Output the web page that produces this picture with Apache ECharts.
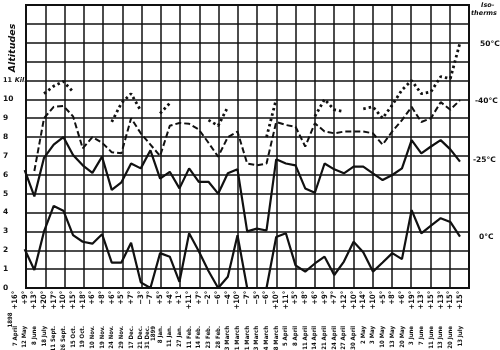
<!DOCTYPE html>
<html><head><meta charset="utf-8">
<script src="https://cdn.jsdelivr.net/npm/echarts@6/dist/echarts.min.js"></script>
<style>html,body{margin:0;padding:0;background:#fff}#c{width:500px;height:350px}</style>
</head><body><div id="c"></div>
<script>
// Observation dates (1898-1899) and ground temperatures
const dates = ["7 April","12 May","8 June","18 July","11 Sept.","26 Sept.","15 Oct.","19 Oct.","10 Nov.","19 Nov.","24 Nov.","29 Nov.","17 Dec.","21 Dec.","31 Dec.\n1899","8 Jan.","11 Jan.","27 Jan.","11 Feb.","14 Feb.","23 Feb.","28 Feb.","3 March","11 March","21 March","23 March","24 March","28 March","5 April","8 April","11 April","14 April","21 April","24 April","27 April","30 April","2 May","3 May","10 May","13 May","20 May","3 June","7 June","11 June","13 June","20 June","13 July"];
const temps = ["+16°","+9°","+13°","+20°","+17°","+10°","+15°","+18°","+6°","+8°","+6°","+5°","+7°","−3°","−7°","+5°","+4°","+1°","+11°","+7°","−2°","−6°","−4°","+10°","−7°","−5°","−6°","+10°","+11°","+5°","+8°","+6°","+9°","+7°","+12°","+10°","+14°","+10°","+5°","+8°","+6°","+19°","+13°","+15°","+13°","+15°","+15°"];
// Altitude (km) of the isotherms
const iso0  = [null,2.05,0.95,3.0,4.35,4.1,2.8,2.45,2.35,2.85,1.35,1.35,2.4,0.3,0,1.85,1.66,0.33,2.9,1.95,0.9,0,0.6,2.8,0,0,0,2.7,2.9,1.2,0.87,1.3,1.66,0.69,1.4,2.45,1.9,0.87,1.35,1.85,1.53,4.13,2.9,3.3,3.7,3.5,2.72];
const iso25 = [null,6.25,4.85,6.9,7.6,8.0,7.05,6.5,6.1,6.96,5.2,5.6,6.6,6.34,7.3,5.8,6.16,5.28,6.34,5.63,5.63,5.0,6.08,6.29,3.0,3.15,3.05,6.82,6.6,6.5,5.28,5.05,6.6,6.29,6.08,6.43,6.43,6.08,5.72,5.99,6.34,7.84,7.14,7.5,7.84,7.35,6.7];
const iso40 = [null,null,6.2,9.0,9.6,9.65,9.1,7.4,8.0,7.7,7.2,7.14,9.0,8.2,7.6,7.0,8.6,8.75,8.7,8.4,7.7,6.96,8.0,8.29,6.6,6.5,6.6,8.8,8.64,8.55,7.5,8.73,8.3,8.2,8.29,8.29,8.29,8.2,7.6,8.3,8.9,9.6,8.8,9.0,9.85,9.45,9.96];
const iso50 = [null,null,null,10.3,10.7,10.95,10.4,null,null,null,8.8,9.8,10.3,9.4,null,9.25,9.8,null,null,null,8.9,8.6,9.6,null,null,null,8.0,10.0,null,null,null,9.1,10.0,9.45,9.35,null,9.5,9.6,9.0,9.7,10.5,11.0,10.3,10.4,11.2,11.1,13.0];
const yLabels = ["0","1","2","3","4","5","6","7","8","9","10","11 Kil."];
const isoLabels = ["50°C","-40°C","-25°C","0°C"];

const FONT = '"Liberation Sans Narrow","DejaVu Sans Condensed","DejaVu Sans",sans-serif';
const INK = '#111';
const chart = echarts.init(document.getElementById('c'), null, {renderer: 'canvas'});

const gridLine = {show: true, lineStyle: {color: INK, width: 1.5}};
const lineSeries = (name, data, type, width) => ({
  name, type: 'line', data, xAxisIndex: 0, yAxisIndex: 0,
  symbol: 'none', connectNulls: false, silent: true,
  lineStyle: {color: INK, width, type, cap: 'butt'}, z: 5
});
const sideText = (text, x, y, size, style) => ({
  type: 'text', x, y, silent: true,
  style: {text, x: 0, y: 0, fill: INK, align: 'left', verticalAlign: 'middle',
    font: (style || '') + ' bold ' + size + 'px "DejaVu Sans", sans-serif'}
});

chart.setOption({
  animation: false,
  backgroundColor: '#fff',
  grid: [
    {left: 15, right: 40, top: 5, bottom: 62, containLabel: false, outerBoundsMode: 'none'},
    {left: 26, right: 31, top: 5, bottom: 62, containLabel: false, outerBoundsMode: 'none',
      show: true, borderColor: INK, borderWidth: 2}
  ],
  xAxis: [
    {type: 'category', gridIndex: 0, position: 'bottom', data: temps, boundaryGap: false,
      axisLine: {show: false}, axisTick: {show: false}, splitLine: {show: false},
      axisLabel: {interval: 0, rotate: 90, margin: 3, fontSize: 7.5, fontWeight: 'bold', color: INK, fontFamily: FONT, hideOverlap: false}},
    {type: 'category', gridIndex: 0, position: 'bottom', data: dates, boundaryGap: false,
      axisLine: {show: false}, axisTick: {show: false}, splitLine: {show: false},
      axisLabel: {interval: 0, rotate: 90, margin: 38, fontSize: 6, fontWeight: 'bold', color: INK, fontFamily: FONT, lineHeight: 6.5, hideOverlap: false}},
    {type: 'value', gridIndex: 1, position: 'bottom', min: 0, max: 23, interval: 1,
      axisLine: {show: true, lineStyle: {color: INK, width: 2}}, axisTick: {show: false},
      axisLabel: {show: false}, splitLine: gridLine}
  ],
  yAxis: [
    {type: 'value', gridIndex: 0, min: 0, max: 15, show: false},
    {type: 'value', gridIndex: 1, min: 0, max: 15, interval: 1,
      axisLine: {show: true, lineStyle: {color: INK, width: 2}}, axisTick: {show: false},
      splitLine: gridLine,
      axisLabel: {align: 'left', margin: 23, color: INK, fontSize: 7.5, fontWeight: 'bold', fontFamily: '"DejaVu Sans", sans-serif',
        formatter: v => {
          const s = yLabels[v];
          if (s === undefined) return '';
          if (s.indexOf(' ') > 0) { const p = s.split(' '); return '{n|' + p[0] + '} {k|' + p[1] + '}'; }
          return s;
        },
        rich: {n: {fontSize: 6.5, fontWeight: 'bold', color: INK, fontFamily: '"DejaVu Sans", sans-serif'},
               k: {fontSize: 6.5, fontWeight: 'bold', fontStyle: 'italic', color: INK, fontFamily: '"DejaVu Sans", sans-serif'}}}}
  ],
  series: [
    lineSeries('0°C', iso0, 'solid', 2.2),
    lineSeries('-25°C', iso25, 'solid', 2.2),
    lineSeries('-40°C', iso40, [6, 3], 2),
    lineSeries('-50°C', iso50, [2.5, 3], 2.8)
  ],
  graphic: [
    {type: 'text', x: 12.5, y: 48, rotation: Math.PI / 2, silent: true,
      style: {text: 'Altitudes', x: 0, y: 0, align: 'center', verticalAlign: 'middle', fill: INK,
        font: 'italic bold 9.5px "DejaVu Sans", sans-serif'}},
    {type: 'text', x: 10, y: 320, rotation: Math.PI / 2, silent: true,
      style: {text: '1898', x: 0, y: 0, align: 'center', verticalAlign: 'middle', fill: INK,
        font: 'bold 6px ' + FONT}},
    sideText('Iso-', 481, 5, 6.5, 'italic'),
    sideText('therms', 471, 13, 6.5, 'italic'),
    sideText(isoLabels[0], 480, 44, 7.5),
    sideText(isoLabels[1], 475, 101, 7.5),
    sideText(isoLabels[2], 473, 160, 7.5),
    sideText(isoLabels[3], 479, 237, 7.5)
  ]
});
</script></body></html>
